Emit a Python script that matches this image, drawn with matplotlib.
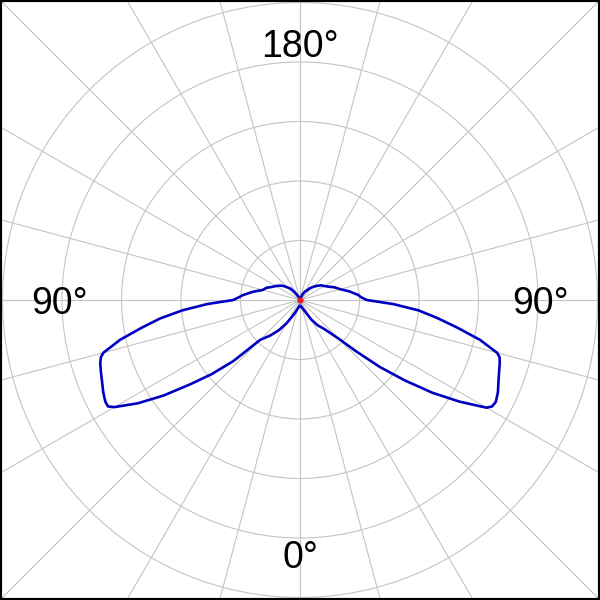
import numpy as np
import matplotlib.pyplot as plt
from matplotlib.patches import Circle

# gamma angle from nadir (deg) and intensity in ring units, two half planes
angles = [0, 5, 10, 15, 20, 25, 30, 35, 40, 45, 47.5, 50, 52.5, 55, 57.5, 60, 61, 62.5, 65, 67.5,
          70, 72.5, 74, 75, 77.5, 80, 82.5, 85, 87.5, 90, 92.5, 95, 100, 105, 110, 115, 120,
          125, 130, 135, 140, 145, 150, 155, 160, 165, 170, 175, 180]
left_cd = [0.10, 0.10, 0.12, 0.15, 0.21, 0.30, 0.45, 0.62, 0.78, 0.95, 1.52, 1.94, 2.33, 2.80, 3.23, 3.60, 3.69, 3.69, 3.65, 3.60,
           3.56, 3.52, 3.48, 3.42, 3.10, 2.71, 2.37, 1.98, 1.56, 1.12, 1.03, 0.96, 0.80, 0.65, 0.60, 0.52, 0.47,
           0.42, 0.37, 0.30, 0.25, 0.17, 0.10, 0.06, 0.03, 0.01, 0.0, 0.0, 0.0]
right_cd = [0.10, 0.10, 0.11, 0.13, 0.17, 0.23, 0.38, 0.52, 0.64, 0.92, 1.27, 1.75, 2.22, 2.72, 3.18, 3.62, 3.69, 3.71, 3.67, 3.61,
            3.56, 3.52, 3.49, 3.43, 3.10, 2.69, 2.33, 2.00, 1.57, 1.12, 1.03, 0.98, 0.84, 0.70, 0.62, 0.53, 0.47,
            0.43, 0.37, 0.31, 0.26, 0.19, 0.16, 0.11, 0.06, 0.03, 0.01, 0.0, 0.0]

rings = [1, 2, 3, 4, 5]
spokes = list(range(0, 360, 15))
label_text = ["180°", "0°", "90°", "90°"]

R = 300 / 59.5  # half width of the box in ring units

fig = plt.figure(figsize=(6, 6), dpi=100)
ax = fig.add_axes([0, 0, 1, 1])
ax.set_xlim(-R, R)
ax.set_ylim(-R, R)
ax.set_aspect("equal")
ax.set_xticks([])
ax.set_yticks([])
for s in ax.spines.values():
    s.set_linewidth(3)
    s.set_color("black")

grid_col = "#c4c4c4"
for r in rings:
    ax.add_patch(Circle((0, 0), r, fill=False, ec=grid_col, lw=0.8, zorder=1))
for a in spokes:
    t = np.radians(a)
    ax.plot([0, 8 * np.sin(t)], [0, -8 * np.cos(t)], color=grid_col, lw=0.8, zorder=1)

th = np.radians(angles)
for side, vals in [(-1, left_cd), (1, right_cd)]:
    v = np.array(vals)
    ax.plot(side * v * np.sin(th), -v * np.cos(th), color="#0000c0", lw=1.9,
            solid_joinstyle="round", zorder=3)

ax.plot([0], [0], "o", color="#e0202a", ms=3.5, zorder=4)

font = dict(family=["Liberation Sans", "DejaVu Sans"], fontsize=27, color="black")
ax.text(0, 4.08, label_text[0], ha="center", va="baseline", **font)
ax.text(0, -4.50, label_text[1], ha="center", va="baseline", **font)
ax.text(-4.04, -0.24, label_text[2], ha="center", va="baseline", **font)
ax.text(4.04, -0.24, label_text[3], ha="center", va="baseline", **font)

fig.savefig("out.png", dpi=100)
